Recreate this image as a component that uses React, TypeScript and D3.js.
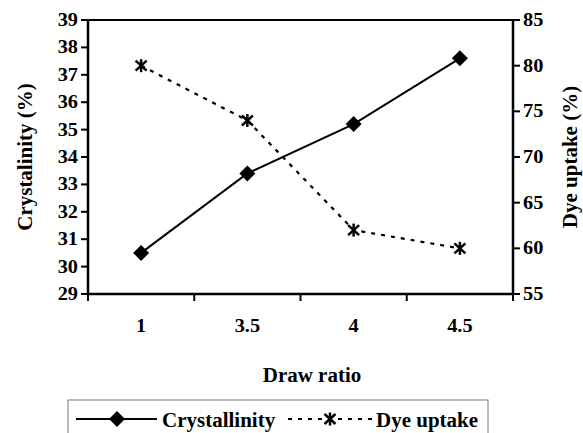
import React from "react";
import * as d3 from "d3";

const categories = ["1", "3.5", "4", "4.5"];
const crystallinity = [30.5, 33.4, 35.2, 37.6];
const dyeUptake = [80, 74, 62, 60];
const leftTicks = [29, 30, 31, 32, 33, 34, 35, 36, 37, 38, 39];
const rightTicks = [55, 60, 65, 70, 75, 80, 85];

const W = 583, H = 433;
const m = { left: 88, right: 513, top: 20, bottom: 294 };

const T = ({ x, y, size, anchor = "start", sx = 1, rot = 0, children }: any) => (
  <text
    transform={`translate(${x},${y}) rotate(${rot}) scale(${sx},1)`}
    textAnchor={anchor}
    fontSize={size}
    fontFamily="Liberation Serif"
    fontWeight="bold"
  >
    {children}
  </text>
);

export default function App() {
  const x = d3.scaleBand<string>().domain(categories).range([m.left, m.right]);
  const yL = d3.scaleLinear().domain([29, 39]).range([m.bottom, m.top]);
  const yR = d3.scaleLinear().domain([55, 85]).range([m.bottom, m.top]);
  const cx = (c: string) => (x(c) as number) + x.bandwidth() / 2;
  const lineL = d3.line<number>().x((_, i) => cx(categories[i])).y((d) => yL(d));
  const lineR = d3.line<number>().x((_, i) => cx(categories[i])).y((d) => yR(d));
  const diamond = (px: number, py: number, r = 8) =>
    `M${px},${py - r}L${px + r},${py}L${px},${py + r}L${px - r},${py}Z`;
  const Star = ({ px, py }: { px: number; py: number }) => (
    <g stroke="#000" strokeWidth={2.5}>
      <line x1={px - 5.5} y1={py - 5} x2={px + 5.5} y2={py + 5} />
      <line x1={px - 5.5} y1={py + 5} x2={px + 5.5} y2={py - 5} />
      <line x1={px} y1={py - 6.5} x2={px} y2={py + 6.5} />
    </g>
  );
  const bounds = [...categories.map((c) => x(c) as number), m.right];
  const dash = "4,6";
  return (
    <svg width={W} height={H} style={{ position: "absolute", left: 0, top: 0 }}>
      <rect width={W} height={H} fill="#fff" />
      <line x1={m.left} y1={m.top} x2={m.right} y2={m.top} stroke="#000" strokeWidth={2} />
      <line x1={m.left} y1={m.top} x2={m.left} y2={m.bottom} stroke="#000" strokeWidth={2.5} />
      <line x1={m.right} y1={m.top} x2={m.right} y2={m.bottom} stroke="#000" strokeWidth={2.5} />
      <line x1={m.left} y1={m.bottom} x2={m.right} y2={m.bottom} stroke="#000" strokeWidth={2.5} />
      {leftTicks.map((t) => (
        <g key={"l" + t}>
          <line x1={m.left - 7} x2={m.left} y1={yL(t)} y2={yL(t)} stroke="#000" strokeWidth={2} />
          <T x={m.left - 10} y={yL(t) + 6} size={18} sx={1.13} anchor="end">{t}</T>
        </g>
      ))}
      {rightTicks.map((t) => (
        <g key={"r" + t}>
          <line x1={m.right} x2={m.right + 7} y1={yR(t)} y2={yR(t)} stroke="#000" strokeWidth={2} />
          <T x={m.right + 10} y={yR(t) + 6} size={18} sx={1.13}>{t}</T>
        </g>
      ))}
      {bounds.map((b, i) => (
        <line key={"b" + i} x1={b} x2={b} y1={m.bottom} y2={m.bottom + 7} stroke="#000" strokeWidth={2} />
      ))}
      {categories.map((c) => (
        <T key={"c" + c} x={cx(c)} y={m.bottom + 38} size={18} sx={1.13} anchor="middle">{c}</T>
      ))}
      <T x={312} y={382} size={20} sx={1.05} anchor="middle">Draw ratio</T>
      <T x={32} y={(m.top + m.bottom) / 2} size={20} sx={1.05} rot={-90} anchor="middle">Crystalinity (%)</T>
      <T x={577} y={(m.top + m.bottom) / 2} size={20} sx={1.05} rot={-90} anchor="middle">Dye uptake (%)</T>
      <path d={lineR(dyeUptake) || ""} fill="none" stroke="#000" strokeWidth={2.2} strokeDasharray={dash} />
      <path d={lineL(crystallinity) || ""} fill="none" stroke="#000" strokeWidth={2} />
      {crystallinity.map((v, i) => (
        <path key={"d" + i} d={diamond(cx(categories[i]), yL(v))} fill="#000" />
      ))}
      {dyeUptake.map((v, i) => (
        <Star key={"s" + i} px={cx(categories[i])} py={yR(v)} />
      ))}
      <rect x={68} y={400} width={420} height={40} fill="#fff" stroke="#777" strokeWidth={1} />
      <line x1={76} x2={157} y1={419} y2={419} stroke="#000" strokeWidth={2} />
      <path d={diamond(117, 419)} fill="#000" />
      <T x={162} y={427} size={20} sx={1.05}>Crystallinity</T>
      <line x1={288} x2={374} y1={419} y2={419} stroke="#000" strokeWidth={2.2} strokeDasharray={dash} />
      <Star px={330} py={419} />
      <T x={376} y={427} size={20} sx={1.05}>Dye uptake</T>
    </svg>
  );
}
